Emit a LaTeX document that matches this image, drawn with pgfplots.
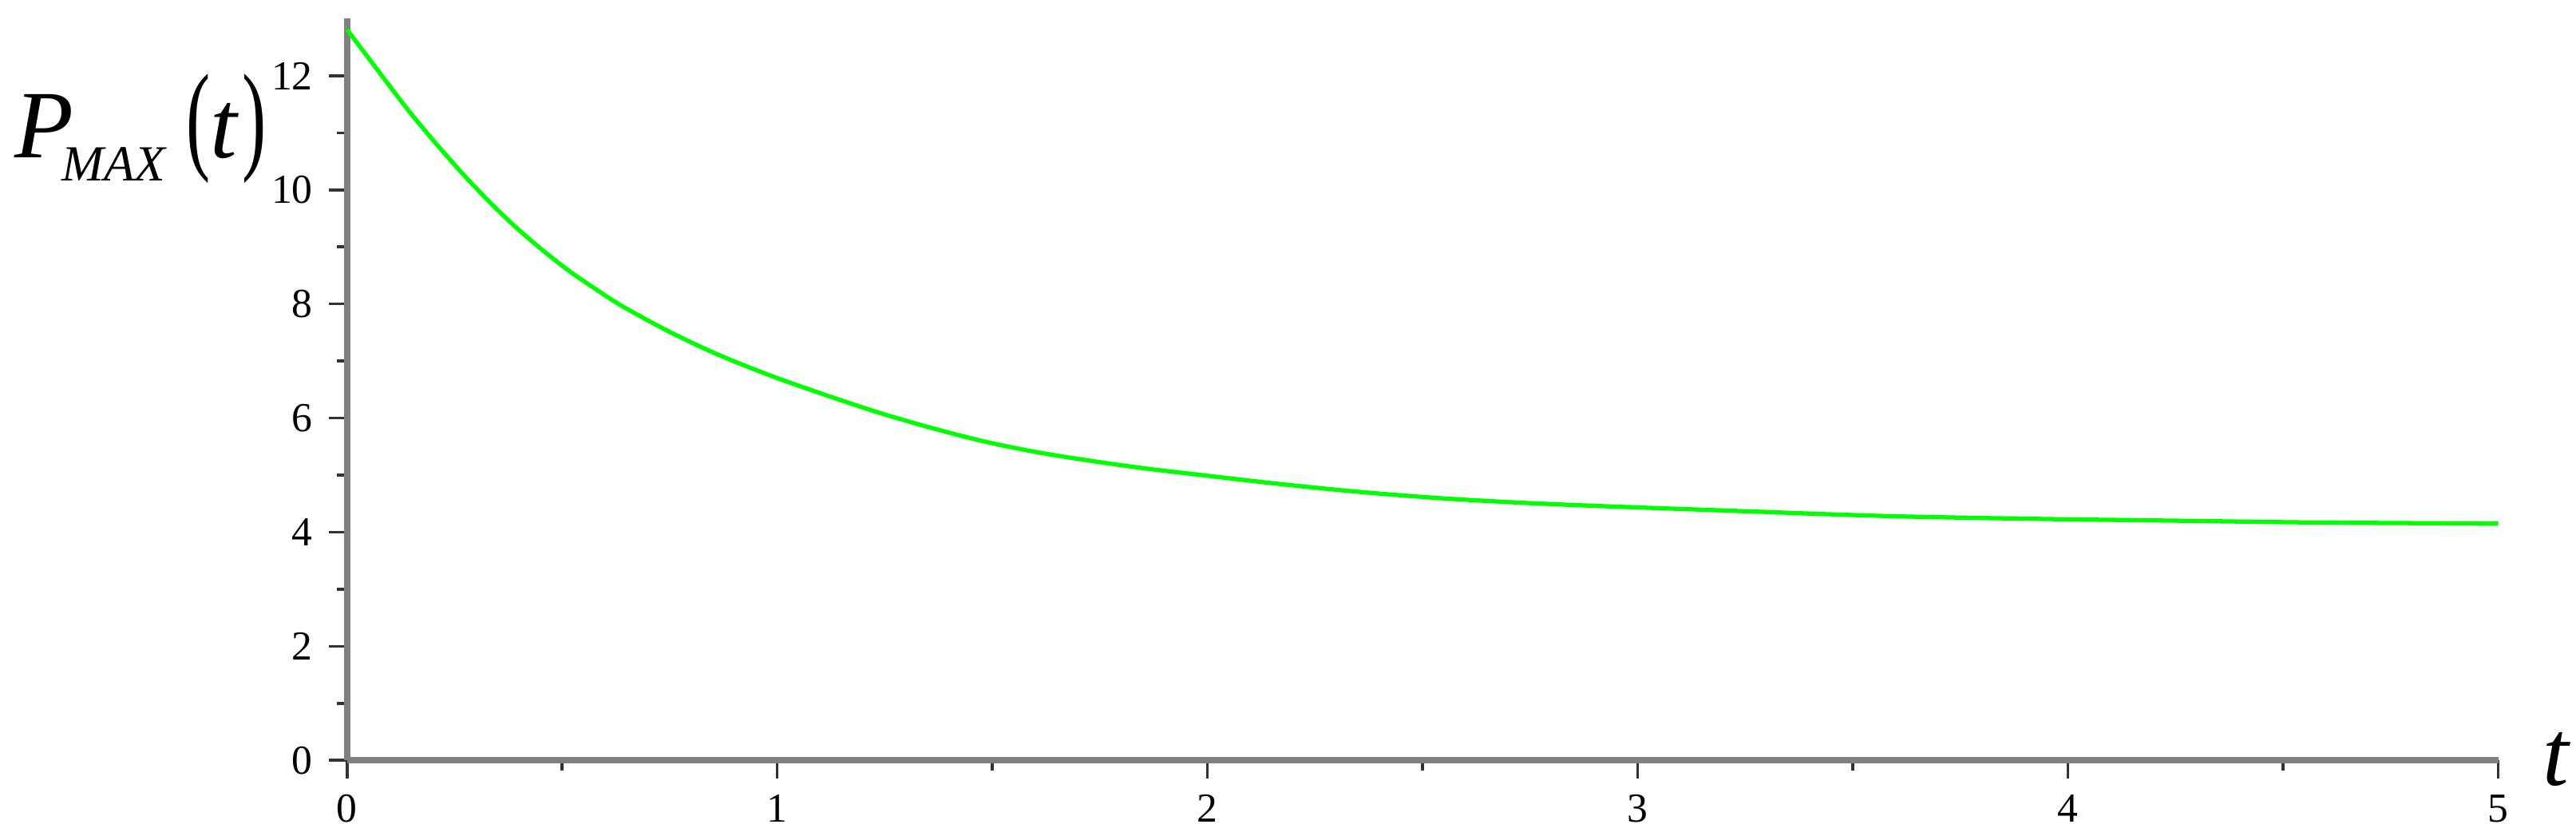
\documentclass[border=0pt]{standalone}
\usepackage{pgfplots}
\pgfplotsset{compat=1.18}
\usepackage{graphicx}
\usepackage{fontspec}
\setmainfont{Liberation Serif}

\definecolor{curvegreen}{RGB}{0,255,0}
\definecolor{axisgray}{RGB}{128,128,128}
\definecolor{tickdark}{RGB}{50,50,50}

\begin{document}
\begin{tikzpicture}
\begin{axis}[
  name=ax, at={(0,0)}, anchor=south west,
  scale only axis, width=459.3pt, height=158.3pt,
  xmin=0, xmax=5, ymin=0, ymax=13,
  axis x line=bottom, axis y line=left,
  axis line style={-, draw=axisgray, line width=1.3pt},
  xtick={0,1,2,3,4,5}, ytick={0,2,4,6,8,10,12},
  minor x tick num=1, minor y tick num=1,
  tick align=outside,
  major tick length=3.8pt, minor tick length=2.1pt,
  every tick/.style={draw=tickdark, line width=0.6pt},
  tick label style={font=\fontsize{8.8}{10}\selectfont, text=black},
  /pgf/number format/assume math mode=true,
  clip=false,
]
\addplot[line width=0.9pt, color=curvegreen, smooth] coordinates {
  (0.000,12.81)(0.083,11.98)(0.145,11.37)(0.207,10.81)(0.269,10.28)
  (0.331,9.79)(0.393,9.34)(0.455,8.94)(0.516,8.58)(0.578,8.26)
  (0.640,7.96)(0.750,7.51)(0.863,7.11)(0.986,6.74)(1.110,6.41)
  (1.234,6.10)(1.357,5.83)(1.481,5.59)(1.605,5.40)(1.729,5.25)
  (1.852,5.12)(1.976,5.01)(2.161,4.85)(2.347,4.71)(2.532,4.60)
  (2.718,4.52)(2.904,4.46)(3.089,4.41)(3.275,4.36)(3.460,4.31)
  (3.646,4.27)(3.955,4.23)(4.264,4.20)(4.573,4.17)(5.000,4.15)
};
\end{axis}
% axis labels, placed as in the original
\node[anchor=base west, inner sep=0pt, font=\fontsize{20.6}{24}\selectfont]
  at ([xshift=-71.2pt, yshift=-29.7pt]ax.north west)
  {\textit{P}\kern-2.5pt\raisebox{-0.24em}{\fontsize{10.8}{12}\selectfont\textit{MAX}}\hspace{0.2em}\scalebox{0.75}[1.25]{(}\textit{t}\kern0.6pt\scalebox{0.75}[1.25]{)}};
\node[anchor=base west, inner sep=0pt, font=\fontsize{20}{24}\selectfont]
  at ([xshift=9.4pt, yshift=-5.3pt]ax.south east) {\textit{t}};
\pgfresetboundingbox
\path (-74.1pt,-17pt) rectangle (475.9pt,162.3pt);
\end{tikzpicture}
\end{document}
